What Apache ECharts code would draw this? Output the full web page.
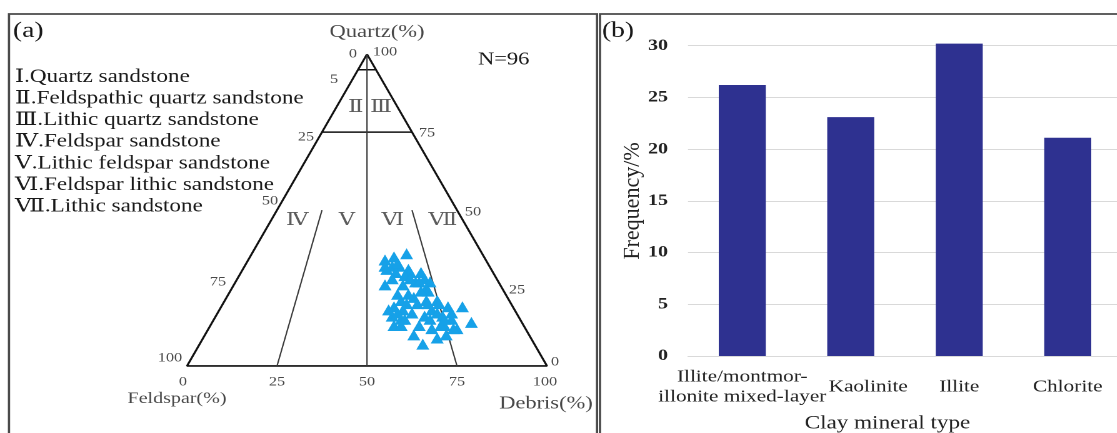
<!DOCTYPE html>
<html>
<head>
<meta charset="utf-8">
<script src="https://cdn.jsdelivr.net/npm/echarts@6/dist/echarts.min.js"></script>
<style>
  html, body { margin: 0; padding: 0; background: #fff; overflow: hidden; }
  /* the figure is laid out narrow and widened as a whole, giving the broad serif lettering */
  #chart { width: 893.6px; height: 433px; transform: scaleX(1.25); transform-origin: 0 0; }
</style>
</head>
<body>
<div id="chart"></div>
<script>
// ---- (a) sandstone composition, percent of Quartz / Feldspar / Debris per sample ----
const quartz   = [36,34,35,32,32,32,31,30,26,26,30,30,28,27,27,25,22,21,19,18,16,15,13,13,20,21,18,21,16,13,15,19,16,15,19,12,14,13,9,10,7,23,18,13,31,33,29,28,27,28,24,24,23,20,17,17,20,17,15,17,20,12,15,10,12];
const feldspar = [21,28,25,29,27,25,23,27,32,27,23,20,20,19,23,21,26,30,33,31,35,33,36,34,26,23,23,20,26,29,25,18,21,19,14,19,14,22,26,32,31,27,35,23,29,25,25,24,22,29,21,23,30,29,33,29,23,22,21,18,20,26,32,23,20];
const debris   = [43,38,40,39,41,43,46,43,42,47,47,50,52,54,50,54,52,49,48,51,49,52,51,53,54,56,59,59,58,58,60,63,63,66,67,69,72,65,65,58,62,50,47,64,40,42,46,48,51,43,55,53,47,51,50,54,57,61,64,65,60,62,53,67,68];
const sampleCount = 'N=96';

// classification boundaries, as [quartz, feldspar, debris] end points
const boundaries = [
  [[95, 5, 0], [95, 0, 5]],
  [[75, 25, 0], [75, 0, 25]],
  [[100, 0, 0], [0, 50, 50]],
  [[75, 56.25, 18.75], [0, 75, 25]],
  [[75, 18.75, 56.25], [0, 25, 75]]
];
const rockTypes = [
  'Ⅰ.Quartz sandstone',
  'Ⅱ.Feldspathic quartz sandstone',
  'Ⅲ.Lithic quartz sandstone',
  'Ⅳ.Feldspar sandstone',
  'Ⅴ.Lithic feldspar sandstone',
  'Ⅵ.Feldspar lithic sandstone',
  'Ⅶ.Lithic sandstone'
];
const regionNumerals = ['Ⅱ', 'Ⅲ', 'Ⅳ', 'Ⅴ', 'Ⅵ', 'Ⅶ'];
const leftTicks   = [0, 5, 25, 50, 75, 100];
const rightTicks  = [100, 75, 50, 25, 0];
const bottomTicks = [0, 25, 50, 75, 100];
const ternaryAxisNames = ['Quartz(%)', 'Feldspar(%)', 'Debris(%)'];

// ---- (b) clay minerals ----
const clayTypes = ['Illite/montmor-\nillonite mixed-layer', 'Kaolinite', 'Illite', 'Chlorite'];
const clayFrequency = [26.2, 23.1, 30.2, 21.1];
const freqAxis = { min: 0, max: 30, interval: 5 };
const freqAxisName = 'Frequency/%';
const clayAxisName = 'Clay mineral type';

// horizontal widening applied to the whole canvas by the stylesheet
const SX = 1.25;
const px = function (x) { return x / SX; };

// ternary (Q, F, D) -> cartesian on an equilateral triangle with side 100
const H = 50 * Math.sqrt(3);
function tern(q, f, d) {
  const s = q + f + d;
  return [(d + q / 2) / s * 100, q / s * H];
}

const SERIF = '"Liberation Serif", "Times New Roman", "DejaVu Serif", serif';
const INK = '#1a1a1a';
const chart = echarts.init(document.getElementById('chart'), null, { renderer: 'canvas', devicePixelRatio: 2 });

const series = [];

// triangle outline
series.push({
  type: 'line', xAxisIndex: 0, yAxisIndex: 0, silent: true, symbol: 'none',
  data: [tern(100, 0, 0), tern(0, 100, 0), tern(0, 0, 100), tern(100, 0, 0)],
  lineStyle: { color: '#111', width: 1.7 }, z: 3
});
// field boundaries
boundaries.forEach(function (b, i) {
  series.push({
    type: 'line', xAxisIndex: 0, yAxisIndex: 0, silent: true, symbol: 'none',
    data: [tern.apply(null, b[0]), tern.apply(null, b[1])],
    lineStyle: { color: i < 2 ? '#111' : '#3a3a3a', width: i < 2 ? 1.5 : 1.1 }, z: 3
  });
});

// sample points
series.push({
  type: 'scatter', xAxisIndex: 0, yAxisIndex: 0, symbol: 'triangle', symbolSize: [px(13), 11],
  itemStyle: { color: '#16A1E8', opacity: 1 },
  data: quartz.map(function (q, i) { return tern(q, feldspar[i], debris[i]); }),
  z: 5
});

// tick numbers and names, anchored on the triangle
function textPoint(pos, text, dx, dy, size, extra) {
  return {
    value: pos,
    label: Object.assign({
      show: true, position: 'inside', formatter: String(text), offset: [px(dx), dy],
      fontFamily: SERIF, fontSize: size, color: INK
    }, extra || {})
  };
}
const textData = [];
const leftOff = { 0: [-14, 0], 5: [-24, 10], 25: [-16, 5], 50: [-7, -9], 75: [-14, -6], 100: [-17, -8] };
leftTicks.forEach(function (v) {
  textData.push(textPoint(tern(100 - v, v, 0), v, leftOff[v][0], leftOff[v][1], 13));
});
const rightOff = { 100: [18, -2], 75: [15, 1], 50: [16, 2], 25: [15, 2], 0: [8, -4] };
rightTicks.forEach(function (v) {
  textData.push(textPoint(tern(v, 0, 100 - v), v, rightOff[v][0], rightOff[v][1], 13));
});
bottomTicks.forEach(function (v) {
  const dx = v === 0 ? -4 : (v === 100 ? -2 : 0);
  textData.push(textPoint(tern(0, 100 - v, v), v, dx, 16, 13));
});
textData.push(textPoint(tern(100, 0, 0), ternaryAxisNames[0], 10, -22, 18));
textData.push(textPoint(tern(0, 100, 0), ternaryAxisNames[1], -10, 33, 16));
textData.push(textPoint(tern(0, 0, 100), ternaryAxisNames[2], -1, 38, 18));
// field numerals
const regionAnchors = [[83, 11.6, 5.4], [83, 4.6, 12.4], [46.8, 46, 7.2], [46.8, 32.2, 21], [46.8, 19.4, 33.8], [46.8, 5.5, 47.7]];
regionNumerals.forEach(function (t, i) {
  textData.push(textPoint(tern.apply(null, regionAnchors[i]), t, 0, 0, 18, { color: '#333' }));
});
series.push({
  type: 'scatter', xAxisIndex: 0, yAxisIndex: 0, symbolSize: 1, silent: true,
  itemStyle: { color: 'rgba(0,0,0,0)' },
  data: textData, z: 6
});

// clay mineral bars
series.push({
  type: 'bar', xAxisIndex: 1, yAxisIndex: 1, barWidth: px(47), clip: false,
  itemStyle: { color: '#2E3190' },
  data: clayFrequency
});

const graphics = [
  { type: 'rect', shape: { x: px(9), y: 14, width: px(588), height: 440 }, style: { fill: 'none', stroke: '#4a4a4a', lineWidth: 1.8 }, silent: true },
  { type: 'rect', shape: { x: px(600), y: 14, width: px(540), height: 440 }, style: { fill: 'none', stroke: '#4a4a4a', lineWidth: 1.8 }, silent: true },
  { type: 'text', x: px(13), y: 31, style: { text: '(a)', font: '22px ' + SERIF, fill: INK, verticalAlign: 'middle' } },
  { type: 'text', x: px(602), y: 31, style: { text: '(b)', font: '22px ' + SERIF, fill: INK, verticalAlign: 'middle' } },
  { type: 'text', x: px(478), y: 60, style: { text: sampleCount, font: '18px ' + SERIF, fill: INK, verticalAlign: 'middle' } },
  // y-axis title of (b); its glyph height is kept unwidened
  { type: 'text', x: px(633), y: 201, rotation: Math.PI / 2, scaleY: 1 / SX,
    style: { text: freqAxisName, font: '22px ' + SERIF, fill: '#222', align: 'center', verticalAlign: 'middle' } }
];
rockTypes.forEach(function (t, i) {
  graphics.push({ type: 'text', x: px(15), y: 77 + i * 21.6, style: { text: t, font: '18.5px ' + SERIF, fill: INK, verticalAlign: 'middle' } });
});

const labelFont = { fontFamily: SERIF, fontSize: 17, color: '#222' };

chart.setOption({
  animation: false,
  backgroundColor: '#fff',
  grid: [
    { left: px(187), top: 366 - 311.8, width: px(360), height: 311.8, outerBoundsMode: 'none' },
    { left: px(688), top: 45.7, width: px(434), height: 310.3, outerBoundsMode: 'none' }
  ],
  xAxis: [
    { gridIndex: 0, type: 'value', min: 0, max: 100, show: false },
    {
      gridIndex: 1, type: 'category', data: clayTypes,
      axisLine: { lineStyle: { color: '#d9d9d9' } }, axisTick: { show: false },
      axisLabel: Object.assign({
        interval: 0, margin: 31, verticalAlign: 'middle', lineHeight: 20,
        // the second name sits a little right of its bar, clear of the two-line first name
        formatter: function (v, i) { return i === 1 ? '{shift|' + v + '}' : v; },
        rich: { shift: Object.assign({ padding: [0, 0, 0, 28] }, labelFont) }
      }, labelFont),
      name: clayAxisName, nameLocation: 'middle', nameGap: 58,
      nameTextStyle: { fontFamily: SERIF, fontSize: 18.5, color: '#222', padding: [0, 28, 0, 0] }
    }
  ],
  yAxis: [
    { gridIndex: 0, type: 'value', min: 0, max: H, show: false },
    {
      gridIndex: 1, type: 'value', min: freqAxis.min, max: freqAxis.max, interval: freqAxis.interval,
      axisLine: { show: false }, axisTick: { show: false },
      splitLine: { lineStyle: { color: '#d9d9d9' } },
      axisLabel: { margin: px(20), fontFamily: SERIF, fontSize: 16, fontWeight: 'bold', color: '#222' }
    }
  ],
  graphic: graphics,
  series: series
});
</script>
</body>
</html>
